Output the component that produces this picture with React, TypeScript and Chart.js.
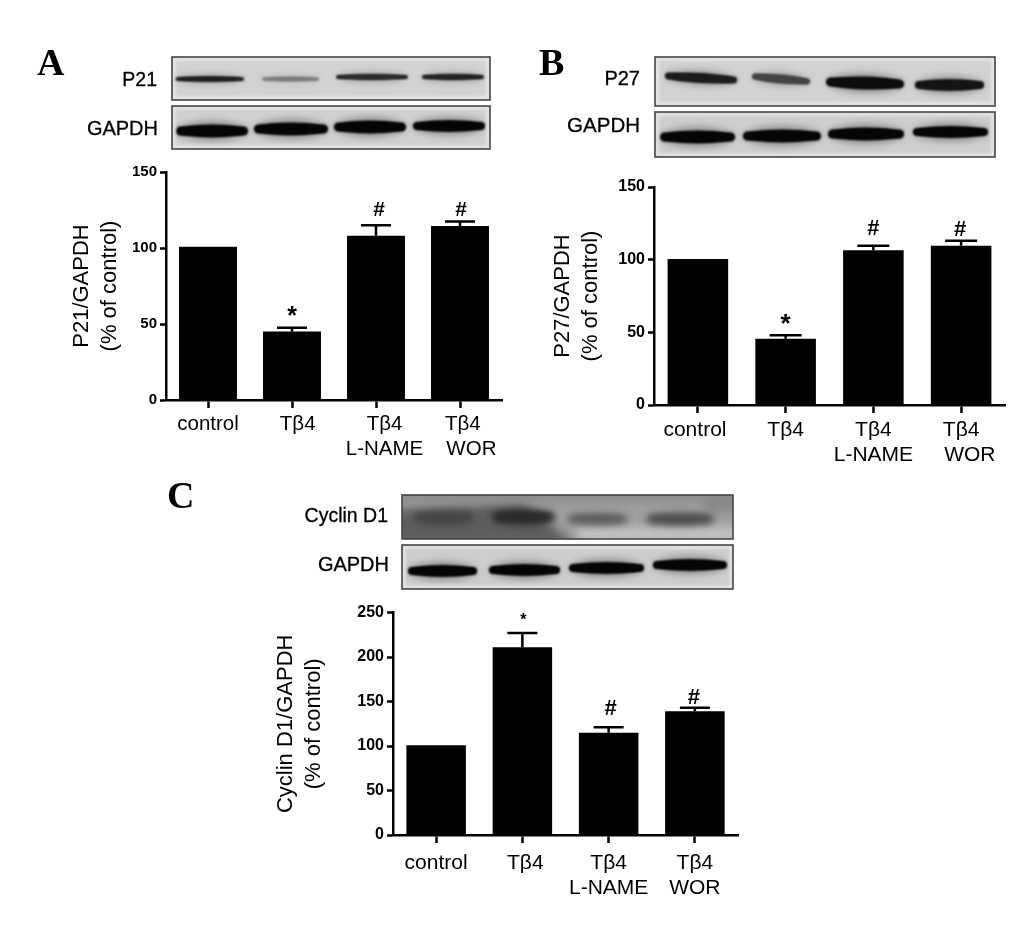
import React, { useEffect, useRef } from "react";
import { Chart, registerables } from "chart.js";

Chart.register(...registerables);

const categories = ["control", "Tβ4", ["Tβ4", "L-NAME"], ["Tβ4", "WOR"]];

const p21Values = [100.8, 45, 108, 114.5];
const p21ErrorTops = [null, 47.5, 115, 117.5];
const p27Values = [100.5, 45.5, 106.5, 109.5];
const p27ErrorTops = [null, 48, 109.5, 113];
const cyclinValues = [101, 211, 115, 139];
const cyclinErrorTops = [null, 227, 121, 143];
const marks = ["", "*", "#", "#"];

const p21Ticks = [0, 50, 100, 150];
const cyclinTicks = [0, 50, 100, 150, 200, 250];

const SANS = "'Liberation Sans', Arial, sans-serif";
const SERIF = "'Liberation Serif', 'Times New Roman', serif";

type Panel = {
  id: string;
  values: number[];
  errorTops: (number | null)[];
  yTicks: number[];
  title: string[];
  box: [number, number, number, number];
  axisLeft: number;
  plotRight: number;
  plotTop: number;
  plotBottom: number;
  titlePad: number;
  tickSize: number;
  catSize: number;
  catPad: number;
  capHalf: number;
  indent: (number | number[])[];
  hashSize: number;
  starSize: number;
  markGap: number[];
  markDx: number[];
};

const panels: Panel[] = [
  {
    id: "A", values: p21Values, errorTops: p21ErrorTops, yTicks: p21Ticks,
    title: ["P21/GAPDH", "(% of control)"],
    box: [60, 160, 460, 310], axisLeft: 166, plotRight: 502, plotTop: 170, plotBottom: 400,
    titlePad: 8, tickSize: 15, catSize: 20.5, catPad: 4, capHalf: 15,
    indent: [0, 2, [3, 3], [1, 4]], hashSize: 21, starSize: 25,
    markGap: [0, 11, 15, 11], markDx: [0, 0, 3, 1],
  },
  {
    id: "B", values: p27Values, errorTops: p27ErrorTops, yTicks: p21Ticks,
    title: ["P27/GAPDH", "(% of control)"],
    box: [540, 170, 480, 300], axisLeft: 654, plotRight: 1005, plotTop: 187, plotBottom: 405,
    titlePad: 9, tickSize: 16, catSize: 21, catPad: 4, capHalf: 16,
    indent: [-1, 0, [0, 0], [0, 3]], hashSize: 22, starSize: 26,
    markGap: [0, 10, 17, 11], markDx: [0, 0, 0, -1],
  },
  {
    id: "C", values: cyclinValues, errorTops: cyclinErrorTops, yTicks: cyclinTicks,
    title: ["Cyclin D1/GAPDH", "(% of control)"],
    box: [260, 600, 490, 310], axisLeft: 393, plotRight: 738, plotTop: 610, plotBottom: 835,
    titlePad: 12, tickSize: 16, catSize: 21, catPad: 7, capHalf: 15,
    indent: [0, 1, [0, 0], [0, 0]], hashSize: 22, starSize: 16,
    markGap: [0, 12, 18, 10], markDx: [0, 1, 2, -1],
  },
];

const annotationPlugin = {
  id: "errorAndMarks",
  afterDatasetsDraw(chart: any, _a: any, opts: any) {
    const { ctx, scales } = chart;
    const meta = chart.getDatasetMeta(0);
    const panel: Panel = opts.panel;
    ctx.save();
    ctx.strokeStyle = "#000";
    ctx.fillStyle = "#000";
    panel.errorTops.forEach((top, i) => {
      const x = meta.data[i].x;
      const yBar = scales.y.getPixelForValue(panel.values[i]);
      if (top !== null) {
        const yTop = scales.y.getPixelForValue(top);
        ctx.lineWidth = 2.5;
        ctx.beginPath();
        ctx.moveTo(x, yBar);
        ctx.lineTo(x, yTop);
        ctx.moveTo(x - panel.capHalf, yTop);
        ctx.lineTo(x + panel.capHalf, yTop);
        ctx.stroke();
        const mark = marks[i];
        const isStar = mark === "*";
        ctx.textAlign = "center";
        ctx.textBaseline = "middle";
        ctx.font = `bold ${isStar ? panel.starSize : panel.hashSize}px ${SANS}`;
        ctx.fillText(mark, x + panel.markDx[i], yTop - panel.markGap[i]);
      }
    });
    ctx.restore();
  },
};

function BarPanel({ panel }: { panel: Panel }) {
  const ref = useRef<HTMLCanvasElement>(null);
  const [left, top, width, height] = panel.box;
  useEffect(() => {
    const pad = (text: string, n: number) => (n >= 0 ? " ".repeat(n) + text : text + " ".repeat(-n));
    const chart = new Chart(ref.current as HTMLCanvasElement, {
      type: "bar",
      data: {
        labels: categories as any,
        datasets: [
          {
            data: panel.values,
            backgroundColor: "#000",
            borderWidth: 0,
            barPercentage: 0.69,
            categoryPercentage: 1,
          },
        ],
      },
      plugins: [annotationPlugin],
      options: {
        animation: false,
        responsive: false,
        maintainAspectRatio: false,
        layout: {
          padding: {
            left: 0,
            top: panel.plotTop - top,
            right: left + width - panel.plotRight,
            bottom: 0,
          },
        },
        plugins: {
          legend: { display: false },
          tooltip: { enabled: false },
          errorAndMarks: { panel },
        } as any,
        scales: {
          x: {
            type: "category",
            offset: true,
            afterFit(scale: any) {
              scale.height = top + height - panel.plotBottom;
            },
            border: { color: "#000", width: 2.5 },
            grid: { offset: false, drawOnChartArea: false, drawTicks: true, tickLength: 8, tickWidth: 2.5, tickColor: "#000" },
            ticks: {
              color: "#000",
              autoSkip: false,
              maxRotation: 0,
              minRotation: 0,
              padding: panel.catPad,
              font: { family: SANS, size: panel.catSize, lineHeight: 1.22 },
              callback(_v: any, i: number) {
                const c = categories[i];
                const n = panel.indent[i];
                if (Array.isArray(c)) return c.map((t, k) => pad(t, (n as number[])[k]));
                return pad(c, n as number);
              },
            },
          },
          y: {
            type: "linear",
            min: panel.yTicks[0],
            max: panel.yTicks[panel.yTicks.length - 1],
            afterFit(scale: any) {
              scale.width = panel.axisLeft - left;
            },
            afterBuildTicks(scale: any) {
              scale.ticks = panel.yTicks.map((value) => ({ value }));
            },
            border: { color: "#000", width: 2.5 },
            grid: { drawOnChartArea: false, tickLength: 6, tickWidth: 2.5, tickColor: "#000" },
            ticks: {
              color: "#000",
              padding: 3,
              font: { family: SANS, size: panel.tickSize, weight: "bold" },
            },
            title: {
              display: true,
              text: panel.title,
              color: "#000",
              padding: { top: panel.titlePad, bottom: 0 },
              font: { family: SANS, size: 22, weight: "normal", lineHeight: 1.27 },
            },
          },
        },
      } as any,
    });
    return () => chart.destroy();
  }, [panel]);
  return <canvas ref={ref} width={width} height={height} style={{ position: "absolute", left, top, width, height }} />;
}

type Band = [number, number, number, number, string, number?];
type Blot = {
  frame: [number, number, number, number];
  bg: string;
  bands: Band[];
  blur?: number;
  smear?: boolean;
};

const G = "#050505";
const blots: Blot[] = [
  { frame: [172, 57, 318, 43], bg: "#d2d2d2", bands: [[175, 244, 79, 5.5, "#1e1e1e"], [262, 319, 79, 4.5, "#7c7c7c"], [336, 408, 77, 6, "#2c2c2c"], [422, 484, 77, 6, "#242424"]] },
  { frame: [172, 106, 318, 43], bg: "#d0d0d0", bands: [[176, 248, 131, 13, G], [254, 328, 129, 13, G], [334, 406, 127, 13, G], [413, 485, 126, 12, G]] },
  { frame: [655, 57, 340, 49], bg: "#d2d2d2", bands: [[665, 737, 78, 10, "#1c1c1c", 4], [752, 810, 79, 9, "#444", 5], [826, 904, 83, 13, "#0c0c0c", 2], [915, 984, 85, 12, "#141414", 0]] },
  { frame: [655, 112, 340, 45], bg: "#cecece", bands: [[660, 735, 137, 13, G], [743, 821, 136, 13, G], [828, 904, 134, 13, G], [913, 988, 132, 12, G]] },
  { frame: [402, 495, 331, 44], bg: "#a0a0a0", smear: true, blur: 3.5, bands: [[415, 473, 518, 10, "#454545"], [493, 554, 517, 12, "#2a2a2a"], [568, 627, 519, 8, "#5c5c5c"], [647, 713, 519, 9, "#4c4c4c"]] },
  { frame: [402, 545, 331, 44], bg: "#cdcdcd", bands: [[408, 477, 571, 12, G], [489, 560, 570, 12, G], [569, 644, 568, 12, G], [653, 727, 565, 12, G]] },
];

function BlotLayer() {
  const ref = useRef<HTMLCanvasElement>(null);
  useEffect(() => {
    const ctx = (ref.current as HTMLCanvasElement).getContext("2d") as CanvasRenderingContext2D;
    blots.forEach((b) => {
      const [x, y, w, h] = b.frame;
      ctx.save();
      ctx.beginPath();
      ctx.rect(x, y, w, h);
      ctx.clip();
      ctx.fillStyle = b.bg;
      ctx.fillRect(x, y, w, h);
      if (b.smear) {
        ctx.filter = "blur(5px)";
        ctx.fillStyle = "#5e5e5e";
        ctx.beginPath();
        ctx.moveTo(x - 10, y + 14);
        ctx.lineTo(x + 120, y + 8);
        ctx.lineTo(x + 175, y + h + 6);
        ctx.lineTo(x - 10, y + h + 6);
        ctx.closePath();
        ctx.fill();
        ctx.fillStyle = "#8a8a8a";
        ctx.fillRect(x - 5, y - 5, w + 10, 12);
        ctx.fillRect(x + w - 28, y - 5, 40, 22);
        ctx.fillStyle = "#c4c4c4";
        ctx.fillRect(x + 175, y + h - 12, w, 14);
      }
      const blur = b.blur ?? 1.3;
      b.bands.forEach(([x0, x1, cy, t, color, tilt]) => {
        const cx = (x0 + x1) / 2;
        const rx = (x1 - x0) / 2;
        const dy = (tilt ?? 0) / 2;
        const rot = (tilt ?? 0) / (x1 - x0);
        // soft halo
        ctx.filter = `blur(${blur + 2}px)`;
        ctx.globalAlpha = 0.28;
        ctx.fillStyle = color;
        ctx.beginPath();
        ctx.ellipse(cx, cy, rx, t * 0.8, rot, 0, Math.PI * 2);
        ctx.fill();
        // dense core: a lens over a round-capped stroke gives blunt ends
        ctx.filter = `blur(${blur}px)`;
        ctx.globalAlpha = 1;
        ctx.beginPath();
        ctx.ellipse(cx, cy, rx * 0.97, t / 2, rot, 0, Math.PI * 2);
        ctx.fill();
        ctx.strokeStyle = color;
        ctx.lineCap = "round";
        ctx.lineWidth = t * 0.68;
        ctx.beginPath();
        ctx.moveTo(x0 + t * 0.34, cy - dy);
        ctx.lineTo(x1 - t * 0.34, cy + dy);
        ctx.stroke();
      });
      ctx.filter = "none";
      ctx.globalAlpha = 1;
      if (!b.smear) {
        ctx.strokeStyle = "rgba(255,255,255,0.55)";
        ctx.lineWidth = 3;
        ctx.filter = "blur(1.5px)";
        ctx.strokeRect(x + 2, y + 2, w - 4, h - 4);
        ctx.filter = "none";
      }
      ctx.restore();
      ctx.save();
      ctx.strokeStyle = "#454545";
      ctx.lineWidth = 1.6;
      ctx.strokeRect(x, y, w, h);
      ctx.restore();
    });
  }, []);
  return <canvas ref={ref} width={1033} height={937} style={{ position: "absolute", left: 0, top: 0 }} />;
}

type Lbl = { text: string; right?: number; left?: number; top: number; size: number; serif?: boolean };
const pageLabels: Lbl[] = [
  { text: "A", left: 37, top: 40, size: 38, serif: true },
  { text: "B", left: 539, top: 40, size: 38, serif: true },
  { text: "C", left: 167, top: 473, size: 38, serif: true },
  { text: "P21", right: 157, top: 68, size: 19.5 },
  { text: "GAPDH", right: 158, top: 116, size: 20 },
  { text: "P27", right: 640, top: 66, size: 20 },
  { text: "GAPDH", right: 640, top: 113, size: 20.5 },
  { text: "Cyclin D1", right: 388, top: 504, size: 19.5 },
  { text: "GAPDH", right: 389, top: 552, size: 20 },
];

export default function App() {
  return (
    <div style={{ position: "absolute", left: 0, top: 0, width: 1033, height: 937, overflow: "hidden", background: "#fff", filter: "blur(0.4px)" }}>
      <BlotLayer />
      {panels.map((p) => (
        <BarPanel key={p.id} panel={p} />
      ))}
      {pageLabels.map((l, i) => (
        <div
          key={i}
          style={{
            position: "absolute",
            top: l.top,
            left: l.left,
            right: l.right !== undefined ? 1033 - l.right : undefined,
            fontFamily: l.serif ? SERIF : SANS,
            fontWeight: l.serif ? 700 : 400,
            fontSize: l.size,
            lineHeight: 1.2,
            color: "#000",
            whiteSpace: "nowrap",
            WebkitTextStroke: l.serif ? undefined : "0.3px #000",
          }}
        >
          {l.text}
        </div>
      ))}
    </div>
  );
}
